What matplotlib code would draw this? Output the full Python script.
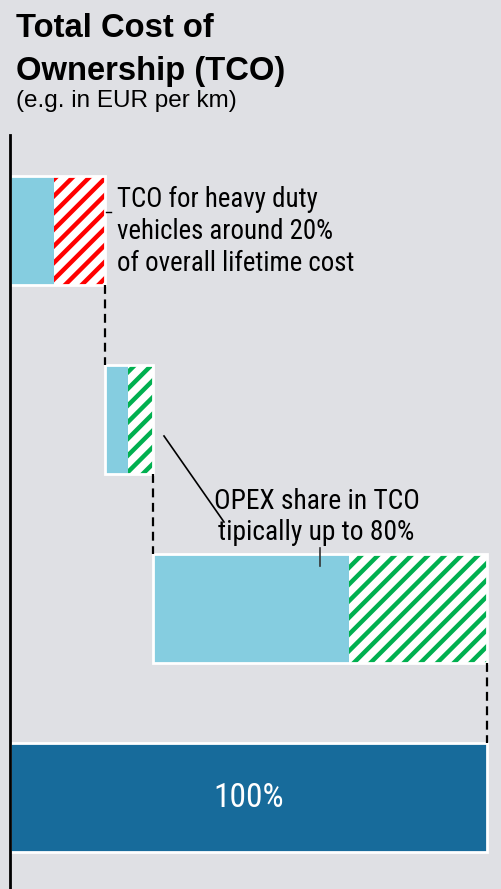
import matplotlib
matplotlib.use("Agg")
import matplotlib.pyplot as plt

# waterfall steps (share of total cost, in %)
steps = ["Vehicle", "Infrastructure", "Energy & maintenance", "Total"]
base_share = [9.2, 4.8, 41.1]        # solid light-blue part
hatched_share = [10.8, 5.2, 28.9]    # hatched part of each step
hatch_colors = ["#ff0000", "#00b050", "#00b050"]
total_label = "100%"

title_lines = ["Total Cost of", "Ownership (TCO)"]
subtitle = "(e.g. in EUR per km)"
note_vehicle = "TCO for heavy duty\nvehicles around 20%\nof overall lifetime cost"
note_opex = "OPEX share in TCO\ntipically up to 80%"

bg = "#dfe0e4"
light_blue = "#85cde0"
dark_blue = "#176b9b"
cond = ["Roboto Condensed", "Liberation Sans", "DejaVu Sans"]
plain = ["Liberation Sans", "DejaVu Sans"]
plt.rcParams["hatch.linewidth"] = 3.2

W, H = 502, 889
AX_L, AX_TOP = 10, 135
PX_PER_PCT = 477 / 100
ROW = 189
Y0 = -(230.5 - AX_TOP) / ROW


def px(xp, yp):
    # pixel position -> data position
    return (xp - AX_L) / PX_PER_PCT, Y0 + (yp - AX_TOP) / ROW


fig = plt.figure(figsize=(W / 100, H / 100), dpi=100, facecolor=bg)
ax = fig.add_axes([AX_L / W, 0, 1 - AX_L / W, (H - AX_TOP) / H])
ax.set_facecolor(bg)

bar_h = 0.58
totals = [b + h for b, h in zip(base_share, hatched_share)]
start = 0
ends = []
for i in range(len(base_share)):
    ax.barh(i, base_share[i], left=start, height=bar_h, color=light_blue, linewidth=0)
    ax.barh(i, hatched_share[i], left=start + base_share[i], height=bar_h,
            color="white", edgecolor=hatch_colors[i], hatch="//", linewidth=0)
    ax.barh(i, totals[i], left=start, height=bar_h, fill=False,
            edgecolor="white", linewidth=2)
    start += totals[i]
    ends.append(start)

# total bar
ax.barh(3, sum(totals), left=0, height=bar_h, color=dark_blue,
        edgecolor="white", linewidth=2)
ax.text(sum(totals) / 2, px(0, 807)[1], total_label, color="white", fontsize=24,
        family=cond, ha="center", va="baseline")

# dashed connectors
for i, e in enumerate(ends):
    ax.plot([e, e], [i + bar_h / 2, i + 1 - bar_h / 2], color="black",
            linestyle=(0, (4, 2.5)), linewidth=1.6)

# annotations (one baseline per line)
for k, line in enumerate(note_vehicle.split("\n")):
    x, y = px(117, 207 + 32 * k)
    ax.text(x, y, line, fontsize=19.4, family=cond, ha="left", va="baseline",
            color="black")
ax.plot(*zip(px(106, 212), px(111, 212)), color="black", linewidth=1)

for k, line in enumerate(note_opex.split("\n")):
    x, y = px(316.5, 509 + 31 * k)
    ax.text(x, y, line, fontsize=19.8, family=cond, ha="center", va="baseline",
            color="black")
ax.plot(*zip(px(164, 436), px(224, 522)), color="black", linewidth=1.2)
ax.plot(*zip(px(320, 548), px(320, 566)), color="#333333", linewidth=1.2)

ax.set_xlim(0, (W - AX_L) / PX_PER_PCT)
ax.set_ylim(Y0 + (H - AX_TOP) / ROW, Y0)
ax.set_xticks([])
ax.set_yticks([])
for s in ["top", "right", "bottom"]:
    ax.spines[s].set_visible(False)
ax.spines["left"].set_linewidth(2)
ax.spines["left"].set_color("black")

# title block
for k, line in enumerate(title_lines):
    fig.text(16 / W, 1 - (37 + 43 * k) / H, line, fontsize=23.6, fontweight="bold",
             family=plain, ha="left", va="baseline")
fig.text(16 / W, 1 - 107 / H, subtitle, fontsize=17.5, family=plain,
         ha="left", va="baseline")

fig.savefig("out.png", dpi=100, facecolor=bg)
